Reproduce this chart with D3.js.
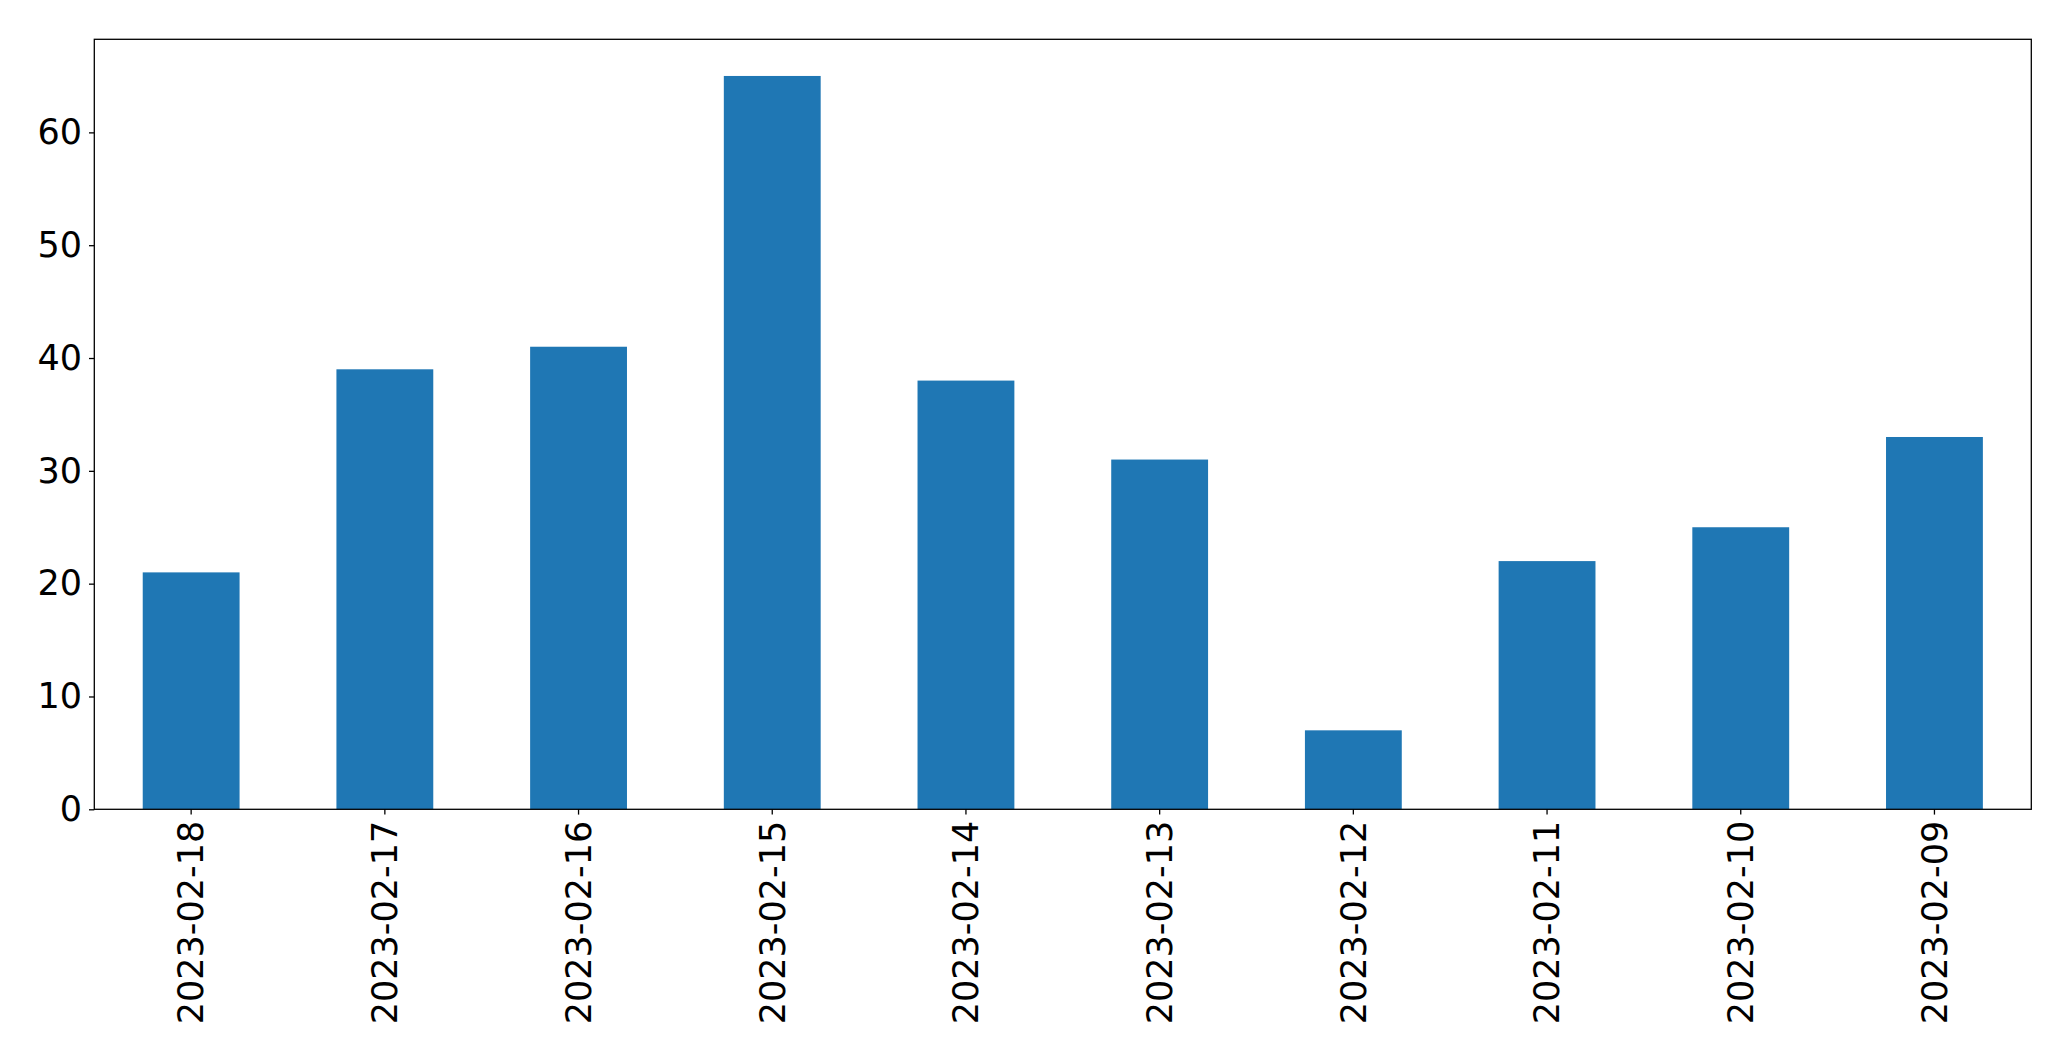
<!DOCTYPE html>
<html><head><meta charset="utf-8">
<script src="https://cdn.jsdelivr.net/npm/d3@7"></script>
<style>body{margin:0;background:#fff;} svg{display:block;}</style>
</head><body>
<script>
const categories = ["2023-02-18","2023-02-17","2023-02-16","2023-02-15","2023-02-14","2023-02-13","2023-02-12","2023-02-11","2023-02-10","2023-02-09"];
const values = [21,39,41,65,38,31,7,22,25,33];
const yTicks = [0,10,20,30,40,50,60];

const W = 2071, H = 1061;
const m = {left: 94.3, right: 2031.3, top: 39.3, bottom: 809.3};
const svg = d3.select("body").append("svg").attr("width", W).attr("height", H);

const x = d3.scaleBand().domain(categories).range([m.left, m.right]).paddingInner(0.5).paddingOuter(0.25);
const y = d3.scaleLinear().domain([0, d3.max(values) * 1.05]).range([m.bottom, m.top]);

svg.append("g").selectAll("rect").data(values).join("rect")
  .attr("x", (d, i) => x(categories[i]))
  .attr("width", x.bandwidth())
  .attr("y", d => y(d))
  .attr("height", d => y(0) - y(d))
  .attr("fill", "#1f77b4");

const font = "DejaVu Sans, sans-serif";
const fs = 35;
const yAxis = svg.append("g").attr("transform", `translate(${m.left},0)`)
  .call(d3.axisLeft(y).tickValues(yTicks).tickSize(5.3).tickPadding(7).tickFormat(d3.format("d")));
yAxis.select(".domain").remove();
yAxis.selectAll("line").attr("stroke", "#000").attr("stroke-width", 1.3);
yAxis.selectAll("text").attr("font-family", font).attr("font-size", fs).attr("fill", "#000");

const xAxis = svg.append("g").attr("transform", `translate(0,${m.bottom})`)
  .call(d3.axisBottom(x).tickSize(5.3).tickPadding(0));
xAxis.select(".domain").remove();
xAxis.selectAll("line").attr("stroke", "#000").attr("stroke-width", 1.3);
xAxis.selectAll("text")
  .attr("font-family", font).attr("font-size", fs).attr("fill", "#000")
  .attr("transform", "rotate(-90)")
  .attr("x", -11.5).attr("y", 0).attr("dy", "0.35em")
  .attr("text-anchor", "end");

svg.append("rect").attr("x", m.left).attr("y", m.top)
  .attr("width", m.right - m.left).attr("height", m.bottom - m.top)
  .attr("fill", "none").attr("stroke", "#000").attr("stroke-width", 1.3);
</script>
</body></html>
